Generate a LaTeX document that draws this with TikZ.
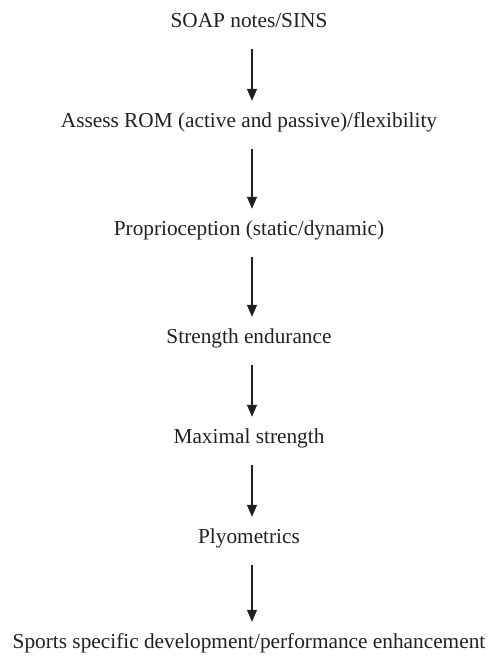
\documentclass[tikz,border=0pt]{standalone}
\usepackage{fontspec}
\setmainfont{Liberation Serif}
\usetikzlibrary{arrows.meta}
\definecolor{ink}{RGB}{35,31,32}

\begin{document}
\begin{tikzpicture}[x=1pt, y=1pt,
    stage/.style={anchor=base, inner sep=0pt, text height=15pt, text depth=5pt,
                  text=ink, font=\fontsize{21.3}{25}\selectfont},
    flow/.style={draw=ink, line width=1.1pt, -{Triangle[length=12pt,width=10pt]},
                 shorten <=17pt, shorten >=11pt}]
  \useasboundingbox (0,0) rectangle (493,-657);

  \node[stage] (soap)   at (249, -27)  {SOAP notes/SINS};
  \node[stage] (rom)    at (249, -127) {Assess ROM (active and passive)/flexibility};
  \node[stage] (prop)   at (249, -235) {Proprioception (static/dynamic)};
  \node[stage] (endur)  at (249, -343) {Strength endurance};
  \node[stage] (maxstr) at (249, -443) {Maximal strength};
  \node[stage] (plyo)   at (249, -543) {Plyometrics};
  \node[stage] (sport)  at (249, -648) {Sports specific development/performance enhancement};

  % arrows sit a little right of the text centre
  \foreach \a/\b in {soap/rom, rom/prop, prop/endur, endur/maxstr, maxstr/plyo, plyo/sport}
    \draw[flow] ([xshift=3pt]\a.south) -- ([xshift=3pt]\b.north);
\end{tikzpicture}
\end{document}
